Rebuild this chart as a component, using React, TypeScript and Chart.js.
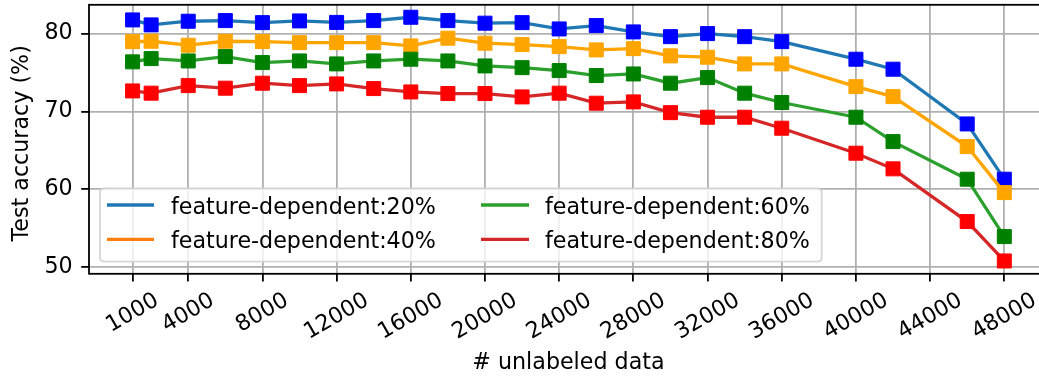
import { useEffect, useRef } from 'react';
import { Chart, registerables } from 'chart.js';

Chart.register(...registerables);

// Number of unlabeled samples used in each run
const unlabeled = [1000, 2000, 4000, 6000, 8000, 10000, 12000, 14000, 16000, 18000, 20000, 22000, 24000, 26000, 28000, 30000, 32000, 34000, 36000, 40000, 42000, 46000, 48000];

// Test accuracy (%) for each feature-dependent noise rate
const acc20 = [81.76, 81.12, 81.59, 81.67, 81.41, 81.63, 81.44, 81.67, 82.1, 81.67, 81.34, 81.41, 80.6, 81.03, 80.22, 79.61, 80.0, 79.61, 78.97, 76.71, 75.43, 68.4, 61.3];
const acc40 = [78.97, 79.02, 78.51, 79.02, 78.97, 78.84, 78.84, 78.84, 78.42, 79.41, 78.77, 78.59, 78.33, 77.91, 78.07, 77.14, 76.97, 76.11, 76.11, 73.19, 71.91, 65.49, 59.58];
const acc60 = [76.37, 76.79, 76.49, 77.05, 76.28, 76.49, 76.11, 76.49, 76.71, 76.49, 75.85, 75.63, 75.25, 74.61, 74.82, 73.63, 74.35, 72.35, 71.15, 69.26, 66.13, 61.3, 53.93];
const acc80 = [72.64, 72.35, 73.32, 72.99, 73.63, 73.32, 73.54, 72.94, 72.51, 72.3, 72.3, 71.87, 72.35, 71.06, 71.23, 69.85, 69.26, 69.26, 67.85, 64.64, 62.63, 55.86, 50.8];

const seriesLabels = ['feature-dependent:20%', 'feature-dependent:40%', 'feature-dependent:60%', 'feature-dependent:80%'];
const xTicks = [1000, 4000, 8000, 12000, 16000, 20000, 24000, 28000, 32000, 36000, 40000, 44000, 48000];
const yTicks = [50, 60, 70, 80];
const xTitle = '# unlabeled data';
const yTitle = 'Test accuracy (%)';

const series = [acc20, acc40, acc60, acc80];
const lineColors = ['#1f77b4', '#ffa500', '#2ca02c', '#d62728'];
const legendColors = ['#1f77b4', '#ff7f0e', '#2ca02c', '#d62728'];
const markerColors = ['#0000ff', '#ffa500', '#008000', '#ff0000'];

const FONT = 'DejaVu Sans';
const FS = 22.2;
const CANVAS_W = 1060;
const CANVAS_H = 379;
const AREA = { left: 89, top: 4.8, right: 1047.9, bottom: 273.8 };
const TICK_LEN = 7.8;
const TICK_PAD = 7.8;

function roundRectPath(ctx: CanvasRenderingContext2D, x: number, y: number, w: number, h: number, r: number) {
  ctx.beginPath();
  ctx.moveTo(x + r, y);
  ctx.lineTo(x + w - r, y);
  ctx.quadraticCurveTo(x + w, y, x + w, y + r);
  ctx.lineTo(x + w, y + h - r);
  ctx.quadraticCurveTo(x + w, y + h, x + w - r, y + h);
  ctx.lineTo(x + r, y + h);
  ctx.quadraticCurveTo(x, y + h, x, y + h - r);
  ctx.lineTo(x, y + r);
  ctx.quadraticCurveTo(x, y, x + r, y);
  ctx.closePath();
}

// Pin the plotting area to fixed bounds after Chart.js lays out its boxes
const pinAreaPlugin = {
  id: 'pinArea',
  afterLayout(chart: any) {
    const ca = chart.chartArea;
    ca.left = AREA.left;
    ca.top = AREA.top;
    ca.right = AREA.right;
    ca.bottom = AREA.bottom;
    ca.width = AREA.right - AREA.left;
    ca.height = AREA.bottom - AREA.top;

    const y = chart.scales.y;
    y.left = 0;
    y.right = AREA.left;
    y.width = AREA.left;
    y.top = AREA.top;
    y.bottom = AREA.bottom;
    y.height = AREA.bottom - AREA.top;
    y.configure();

    const x = chart.scales.x;
    x.left = AREA.left;
    x.right = AREA.right;
    x.width = AREA.right - AREA.left;
    x.top = AREA.bottom;
    x.bottom = CANVAS_H;
    x.height = CANVAS_H - AREA.bottom;
    x.configure();
  },
};

// Axes frame drawn above the lines
const framePlugin = {
  id: 'axesFrame',
  afterDatasetsDraw(chart: any) {
    const { ctx, chartArea } = chart;
    ctx.save();
    ctx.strokeStyle = '#000';
    ctx.lineWidth = 1.8;
    ctx.strokeRect(chartArea.left, chartArea.top, chartArea.right - chartArea.left, chartArea.bottom - chartArea.top);
    ctx.restore();
  },
};

// Rotated x tick labels, axis titles and the boxed legend
const annotatePlugin = {
  id: 'annotate',
  afterDraw(chart: any) {
    const { ctx, chartArea } = chart;
    const xs = chart.scales.x;
    ctx.save();
    ctx.fillStyle = '#000';
    ctx.font = `${FS}px "${FONT}"`;

    // x tick labels, rotated 30 degrees and centred under each tick
    const ang = Math.PI / 6;
    for (const v of xTicks) {
      const label = String(v);
      const px = xs.getPixelForValue(v);
      const w = ctx.measureText(label).width;
      const boxH = w * Math.sin(ang) + FS * Math.cos(ang);
      const cy = chartArea.bottom + TICK_LEN + TICK_PAD + boxH / 2;
      ctx.save();
      ctx.translate(px, cy);
      ctx.rotate(-ang);
      ctx.textAlign = 'center';
      ctx.textBaseline = 'alphabetic';
      ctx.fillText(label, 0, 0.26 * FS);
      ctx.restore();
    }

    // axis titles
    ctx.textAlign = 'center';
    ctx.textBaseline = 'alphabetic';
    ctx.fillText(xTitle, (chartArea.left + chartArea.right) / 2, 369.4);
    ctx.save();
    ctx.translate(28.4, 143.3);
    ctx.rotate(-Math.PI / 2);
    ctx.fillText(yTitle, 0, 0);
    ctx.restore();

    // legend box
    const lx = 100, ly = 188.3, lw = 721.7, lh = 73.4;
    roundRectPath(ctx, lx, ly, lw, lh, 4.5);
    ctx.fillStyle = 'rgba(255,255,255,0.8)';
    ctx.fill();
    ctx.strokeStyle = 'rgba(204,204,204,0.8)';
    ctx.lineWidth = 1.8;
    ctx.stroke();

    const cols = [{ h0: 107, h1: 154, tx: 171 }, { h0: 481, h1: 529, tx: 545 }];
    const rows = [{ hy: 205, by: 213.8 }, { hy: 239.3, by: 247.8 }];
    ctx.textAlign = 'left';
    seriesLabels.forEach((lab, i) => {
      const c = cols[Math.floor(i / 2)];
      const r = rows[i % 2];
      ctx.beginPath();
      ctx.moveTo(c.h0, r.hy);
      ctx.lineTo(c.h1, r.hy);
      ctx.strokeStyle = legendColors[i];
      ctx.lineWidth = 3.3;
      ctx.lineCap = 'butt';
      ctx.stroke();
      ctx.fillStyle = '#000';
      ctx.fillText(lab, c.tx, r.by);
    });
    ctx.restore();
  },
};

export default function App() {
  const canvasRef = useRef<HTMLCanvasElement | null>(null);

  useEffect(() => {
    document.body.style.margin = '0';
    const canvas = canvasRef.current;
    if (!canvas) return;

    const gridOpts = {
      color: '#b0b0b0',
      lineWidth: 1.8,
      tickColor: '#000',
      tickLength: TICK_LEN,
      tickWidth: 1.8,
    };

    const chart = new Chart(canvas, {
      type: 'line',
      data: {
        datasets: series.map((vals, i) => ({
          label: seriesLabels[i],
          data: unlabeled.map((x, j) => ({ x, y: vals[j] })),
          borderColor: lineColors[i],
          backgroundColor: markerColors[i],
          borderWidth: 3.3,
          pointStyle: 'rect',
          pointRadius: 9.9,
          pointBorderWidth: 1,
          pointBackgroundColor: markerColors[i],
          pointBorderColor: markerColors[i],
          tension: 0,
          fill: false,
          order: series.length - i,
        })),
      },
      options: {
        responsive: false,
        animation: false,
        devicePixelRatio: 1,
        events: [],
        layout: {
          padding: { left: 0, top: AREA.top, right: CANVAS_W - AREA.right, bottom: 0 },
        },
        plugins: {
          legend: { display: false },
          tooltip: { enabled: false },
        },
        scales: {
          x: {
            type: 'linear',
            min: -1350,
            max: 50350,
            afterBuildTicks: (s: any) => {
              s.ticks = xTicks.map((v) => ({ value: v }));
            },
            afterFit: (s: any) => {
              s.height = CANVAS_H - AREA.bottom;
              s.paddingLeft = 0;
              s.paddingRight = 0;
            },
            ticks: { display: false },
            grid: gridOpts,
            border: { display: false },
          },
          y: {
            type: 'linear',
            min: 49.15,
            max: 83.7,
            afterBuildTicks: (s: any) => {
              s.ticks = yTicks.map((v) => ({ value: v }));
            },
            afterFit: (s: any) => {
              s.width = AREA.left;
              s.paddingTop = 0;
              s.paddingBottom = 0;
            },
            ticks: {
              color: '#000',
              padding: 8.5,
              font: { family: FONT, size: FS },
            },
            grid: gridOpts,
            border: { display: false },
          },
        },
      },
      plugins: [pinAreaPlugin, framePlugin, annotatePlugin],
    });

    return () => chart.destroy();
  }, []);

  return (
    <div style={{ position: 'fixed', left: 0, top: 0, width: 1039, height: 379, overflow: 'hidden', background: '#fff' }}>
      <canvas ref={canvasRef} width={CANVAS_W} height={CANVAS_H} style={{ width: CANVAS_W, height: CANVAS_H, display: 'block' }} />
    </div>
  );
}
